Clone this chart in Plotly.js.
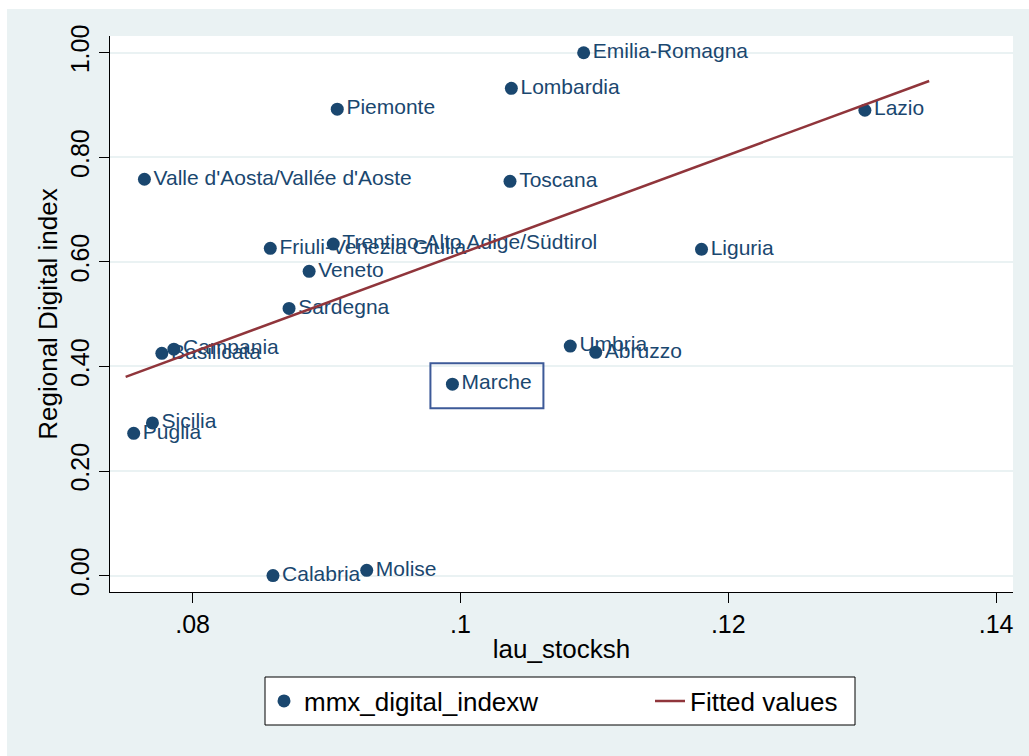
<!DOCTYPE html>
<html><head><meta charset="utf-8">
<script src="https://cdn.plot.ly/plotly-3.0.1.min.js"></script>
<style>html,body{margin:0;padding:0;background:#fff;} #chart{position:absolute;left:7px;top:9px;width:1022px;height:747px;}</style>
</head><body><div id="chart"></div>
<script>
const regions = ["Emilia-Romagna","Lombardia","Piemonte","Lazio","Valle d'Aosta/Vallée d'Aoste","Toscana","Trentino-Alto Adige/Südtirol","Friuli-Venezia Giulia","Liguria","Veneto","Sardegna","Campania","Basilicata","Umbria","Abruzzo","Marche","Sicilia","Puglia","Calabria","Molise"];
const lauStocksh = [0.1092,0.1038,0.0908,0.1302,0.0764,0.1037,0.0905,0.0858,0.1180,0.0887,0.0872,0.0786,0.0777,0.1082,0.1101,0.0994,0.0770,0.0756,0.0860,0.0930];
const digitalIndex = [1.000,0.932,0.892,0.890,0.758,0.754,0.634,0.626,0.624,0.582,0.511,0.433,0.425,0.439,0.427,0.366,0.292,0.272,0.000,0.010];
const fitX = [0.075, 0.135];
const fitY = [0.380, 0.946];
const yTickVals = [0, 0.2, 0.4, 0.6, 0.8, 1.0];
const yTickText = ["0.00","0.20","0.40","0.60","0.80","1.00"];
const xTickVals = [0.08, 0.10, 0.12, 0.14];
const xTickText = [".08",".1",".12",".14"];
const highlighted = "Marche";

const FONT = "Liberation Sans, Arial, Helvetica, sans-serif";
const NAVY = "#1a476f";
const hi = regions.indexOf(highlighted);

const traces = [
  {
    type: "scatter", mode: "markers+text", name: "mmx_digital_indexw",
    x: lauStocksh, y: digitalIndex, text: regions,
    textposition: "middle right",
    textfont: {family: FONT, size: 21, color: NAVY},
    marker: {color: NAVY, size: 13},
    cliponaxis: false,
    legend: "legend"
  },
  {
    type: "scatter", mode: "lines", name: "Fitted values",
    x: fitX, y: fitY,
    line: {color: "#90353b", width: 2.5},
    legend: "legend2"
  }
];

const legendBase = {
  orientation: "h", yanchor: "middle", y: -0.196, xanchor: "left",
  bgcolor: "rgba(0,0,0,0)", borderwidth: 0,
  font: {size: 26, color: "#000"}
};

const layout = {
  width: 1022, height: 747,
  margin: {l: 103, r: 16, t: 27, b: 164},
  paper_bgcolor: "#eaf2f3",
  plot_bgcolor: "#ffffff",
  font: {family: FONT, color: "#000"},
  showlegend: true,
  xaxis: {
    range: [0.07383, 0.14126],
    tickvals: xTickVals, ticktext: xTickText,
    ticks: "outside", ticklen: 10, tickcolor: "#000", tickwidth: 1,
    showgrid: false, zeroline: false,
    showline: true, linecolor: "#000", linewidth: 1,
    tickfont: {size: 25, color: "#000"},
    title: {text: "lau_stocksh", font: {size: 26, color: "#000"}, standoff: 2}
  },
  yaxis: {
    range: [-0.0314, 1.032],
    tickvals: yTickVals, ticktext: yTickText,
    tickangle: -90,
    ticks: "outside", ticklen: 10, tickcolor: "#000", tickwidth: 1,
    showgrid: true, gridcolor: "#eaf2f3", gridwidth: 2,
    zeroline: false,
    showline: true, linecolor: "#000", linewidth: 1,
    tickfont: {size: 25, color: "#000"},
    title: {text: "Regional Digital index", font: {size: 26, color: "#000"}, standoff: 0}
  },
  legend: Object.assign({}, legendBase, {x: (264 - 110) / 903}),
  legend2: Object.assign({}, legendBase, {x: (650 - 110) / 903}),
  shapes: [
    {
      type: "rect", xref: "x", yref: "y",
      xsizemode: "pixel", ysizemode: "pixel",
      xanchor: lauStocksh[hi], yanchor: digitalIndex[hi],
      x0: -22, x1: 91, y0: -24, y1: 21,
      line: {color: "#3d5a98", width: 2}
    },
    {
      type: "rect", xref: "paper", yref: "paper", layer: "below",
      x0: (265 - 110) / 903, x1: (855 - 110) / 903,
      y0: (592 - 725) / 556, y1: (592 - 677) / 556,
      fillcolor: "#ffffff", line: {color: "#000", width: 1}
    }
  ]
};

Plotly.newPlot("chart", traces, layout, {displayModeBar: false, staticPlot: true});
</script></body></html>
